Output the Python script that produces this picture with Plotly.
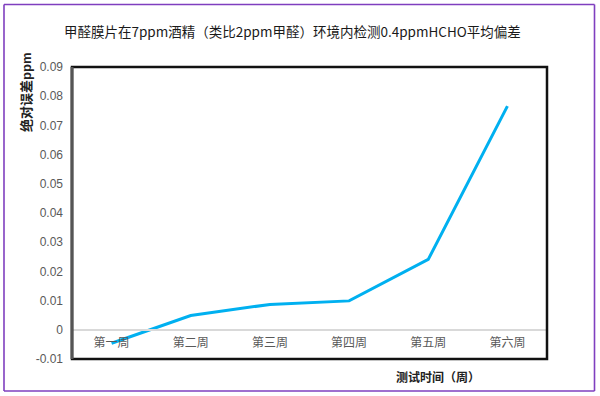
import plotly.graph_objects as go

categories = ["第一周", "第二周", "第三周", "第四周", "第五周", "第六周"]
values = [-0.0046, 0.0049, 0.0087, 0.0099, 0.0241, 0.0766]
ytick_vals = [-0.01, 0, 0.01, 0.02, 0.03, 0.04, 0.05, 0.06, 0.07, 0.08, 0.09]
ytick_text = ["-0.01", "0", "0.01", "0.02", "0.03", "0.04", "0.05", "0.06", "0.07", "0.08", "0.09"]

title_text = "甲醛膜片在7ppm酒精（类比2ppm甲醛）环境内检测0.4ppmHCHO平均偏差"
ytitle = "绝对误差ppm"
xtitle = "测试时间（周）"

W, H = 600, 396
ML, MR, MT, MB = 72, 53, 67, 37
pw, ph = W - ML - MR, H - MT - MB

def px(x):
    return (x - ML) / pw

def py(y):
    return (H - MB - y) / ph

cjk = "Liberation Sans, Noto Sans CJK SC, sans-serif"
border = dict(color="#7F3FBF", width=1.6)

fig = go.Figure()
fig.add_trace(go.Scatter(
    x=categories, y=values, mode="lines",
    line=dict(color="#00B0F0", width=3),
    hoverinfo="skip", showlegend=False,
))

ymin, ymax = -0.01, 0.09
fig.update_layout(
    width=W, height=H,
    margin=dict(l=ML, r=MR, t=MT, b=MB),
    paper_bgcolor="white", plot_bgcolor="white",
    showlegend=False,
    xaxis=dict(
        type="category", anchor="free",
        position=(0 - ymin) / (ymax - ymin),
        showline=True, linecolor="#D9D9D9", linewidth=2,
        showgrid=False, zeroline=False, ticks="",
        tickfont=dict(family=cjk, size=12, color="#595959"),
        range=[-0.5, len(categories) - 0.5],
        ticklabelstandoff=2,
    ),
    yaxis=dict(
        range=[ymin, ymax], tickvals=ytick_vals, ticktext=ytick_text,
        showgrid=False, zeroline=False, showline=False, ticks="",
        tickfont=dict(family="Liberation Sans, sans-serif", size=12, color="#595959"),
        ticklabelstandoff=8,
    ),
    shapes=[
        # plot frame
        dict(type="rect", xref="paper", yref="paper", x0=0, x1=1, y0=0, y1=1,
             line=dict(color="#111111", width=2.5), layer="above"),
        dict(type="line", xref="paper", yref="paper", x0=0, x1=0, y0=0, y1=1,
             line=dict(color="#555555", width=3), layer="above"),
        # outer border (four sides)
        dict(type="line", xref="paper", yref="paper", x0=px(4), x1=px(594.5), y0=py(4.5), y1=py(4.5), line=border),
        dict(type="line", xref="paper", yref="paper", x0=px(4), x1=px(594.5), y0=py(391), y1=py(391), line=border),
        dict(type="line", xref="paper", yref="paper", x0=px(4), x1=px(4), y0=py(391), y1=py(4.5), line=border),
        dict(type="line", xref="paper", yref="paper", x0=px(594.5), x1=px(594.5), y0=py(391), y1=py(4.5), line=border),
    ],
    annotations=[
        dict(text=title_text, xref="paper", yref="paper", x=px(292), y=py(31),
             showarrow=False, xanchor="center", yanchor="middle",
             font=dict(family="Noto Sans CJK SC, sans-serif", size=13.5, color="#1a1a1a")),
        dict(text="<b>" + ytitle + "</b>", xref="paper", yref="paper", x=px(26), y=py(93),
             showarrow=False, xanchor="center", yanchor="middle", textangle=-90,
             font=dict(family=cjk, size=13, color="#222222")),
        dict(text="<b>" + xtitle + "</b>", xref="paper", yref="paper", x=px(438), y=py(377),
             showarrow=False, xanchor="center", yanchor="middle",
             font=dict(family=cjk, size=12, color="#222222")),
    ],
)

fig.write_html(
    "out.html",
    config={"displayModeBar": False},
    post_script="document.body.style.margin='0';document.body.style.overflow='hidden';",
)
